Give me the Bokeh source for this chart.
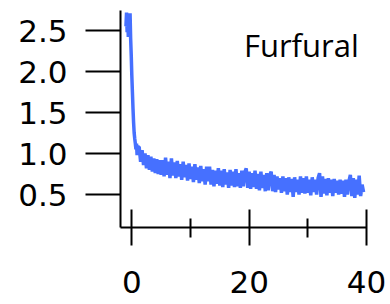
import numpy as np
from bokeh.plotting import figure
from bokeh.models import FixedTicker, Range1d, Label, PrintfTickFormatter
from bokeh.embed import file_html
from bokeh.resources import INLINE

# early part (fine sampling, time in same units as x axis)
t_early = [-1.0, -0.9, -0.8, -0.7, -0.6, -0.5, -0.4, -0.3, -0.2, -0.1, 0.0,
           0.1, 0.2, 0.3, 0.4, 0.5, 0.6, 0.7, 0.8, 0.9, 1.0]
y_early = [2.55, 2.72, 2.48, 2.70, 2.42, 2.66, 2.46, 2.71, 2.40, 2.20, 1.95,
           1.75, 1.55, 1.38, 1.25, 1.18, 1.12, 1.05, 1.12, 0.98, 1.08]

# later part, sampled every 0.25 from 1.25 to 39.5
t_late = np.arange(1.25, 39.51, 0.25)
y_late = [
    1.08, 0.90, 1.04, 0.86, 1.00, 0.82, 0.98, 0.80,
    0.96, 0.78, 0.94, 0.76, 0.93, 0.75, 0.92, 0.74,
    0.92, 0.72, 0.95, 0.74, 0.90, 0.70, 0.94, 0.73,
    0.89, 0.70, 0.91, 0.72, 0.87, 0.68, 0.90, 0.71,
    0.86, 0.67, 0.88, 0.69, 0.84, 0.65, 0.87, 0.68,
    0.83, 0.64, 0.85, 0.66, 0.81, 0.62, 0.84, 0.66,
    0.84, 0.62, 0.80, 0.60, 0.79, 0.63, 0.82, 0.61,
    0.79, 0.59, 0.81, 0.62, 0.77, 0.58, 0.80, 0.61,
    0.78, 0.59, 0.81, 0.60, 0.76, 0.58, 0.79, 0.60,
    0.77, 0.82, 0.58, 0.78, 0.57, 0.76, 0.59, 0.79,
    0.57, 0.75, 0.55, 0.78, 0.58, 0.74, 0.54, 0.76,
    0.55, 0.73, 0.78, 0.54, 0.74, 0.53, 0.72, 0.56,
    0.70, 0.52, 0.72, 0.54, 0.70, 0.50, 0.71, 0.53,
    0.69, 0.47, 0.71, 0.53, 0.68, 0.50, 0.72, 0.52,
    0.70, 0.51, 0.72, 0.52, 0.68, 0.49, 0.71, 0.53,
    0.68, 0.50, 0.70, 0.76, 0.47, 0.72, 0.51, 0.69,
    0.49, 0.70, 0.52, 0.68, 0.48, 0.69, 0.52, 0.67,
    0.50, 0.68, 0.51, 0.67, 0.47, 0.68, 0.50, 0.66,
    0.74, 0.48, 0.70, 0.46, 0.68, 0.50, 0.73, 0.48,
    0.62, 0.53,
]

x_ticks = [0, 20, 40]
x_minor = [10, 30]
y_ticks = [0.5, 1.0, 1.5, 2.0, 2.5]
label_text = "Furfural"

x = list(t_early) + list(t_late)
y = list(y_early) + list(y_late)

p = figure(width=390, height=304, output_backend="svg", toolbar_location=None,
           x_range=Range1d(-1.93, 40), y_range=Range1d(0.0976, 2.744),
           min_border_left=120, min_border_right=24, min_border_top=10,
           min_border_bottom=77)
p.outline_line_color = None
p.xgrid.visible = False
p.ygrid.visible = False
p.background_fill_color = "white"

p.line(x, y, color="#4670ff", line_width=3.5)

ax = p.xaxis[0]
ax.ticker = FixedTicker(ticks=x_ticks, minor_ticks=x_minor)
ax.axis_line_width = 2
ax.major_tick_line_width = 2
ax.minor_tick_line_width = 2
ax.major_tick_in = 18
ax.major_tick_out = 18
ax.minor_tick_in = 9
ax.minor_tick_out = 10
ax.major_label_text_font = "DejaVu Sans"
ax.major_label_text_font_size = "31px"
ax.major_label_text_color = "black"
ax.major_label_standoff = 25

ay = p.yaxis[0]
ay.ticker = FixedTicker(ticks=y_ticks, minor_ticks=[])
ay.formatter = PrintfTickFormatter(format="%.1f")
ay.axis_line_width = 2
ay.major_tick_line_width = 2
ay.major_tick_in = 0
ay.major_tick_out = 35
ay.minor_tick_in = 0
ay.minor_tick_out = 0
ay.major_label_text_font = "DejaVu Sans"
ay.major_label_text_font_size = "31px"
ay.major_label_text_color = "black"
ay.major_label_standoff = 18

p.add_layout(Label(x=19.1, y=2.32, text=label_text, text_font="Open Sans",
                   text_font_size="31px", text_color="black",
                   text_baseline="alphabetic", text_align="left"))

open("out.html", "w").write(file_html(p, INLINE))
